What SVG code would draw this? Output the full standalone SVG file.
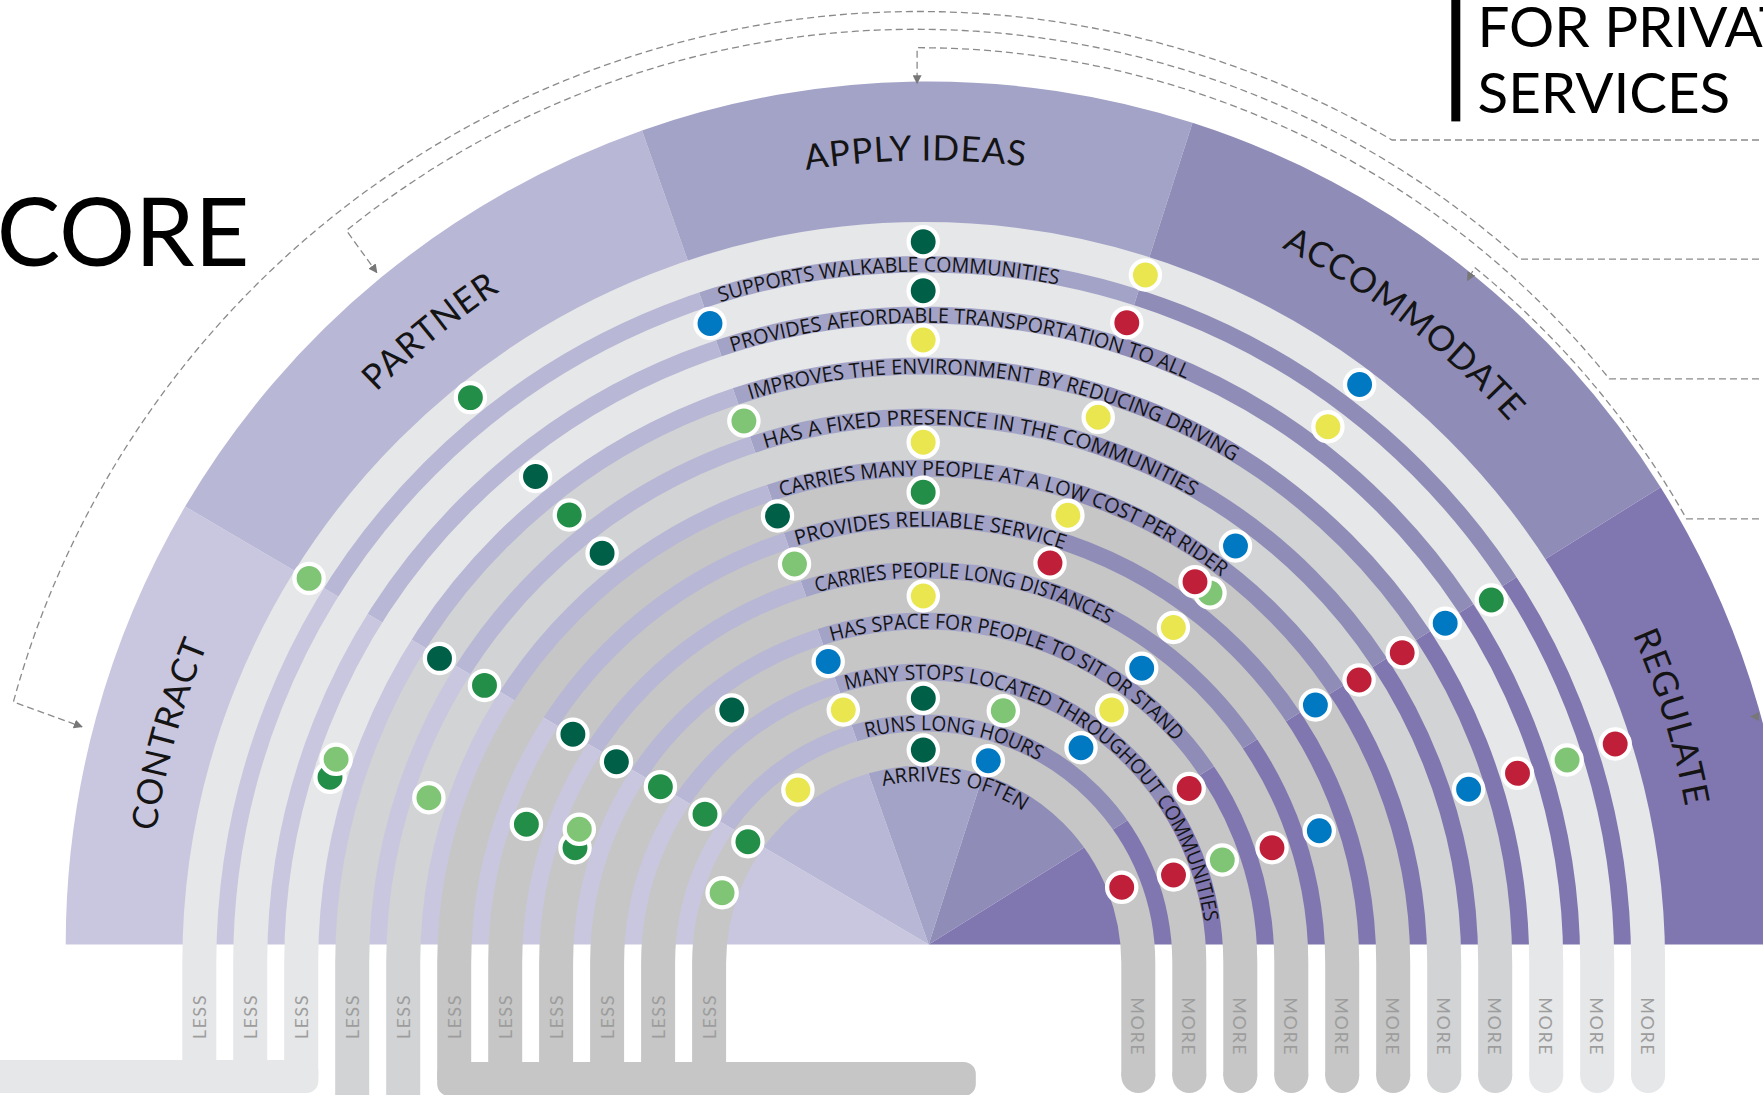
<svg xmlns="http://www.w3.org/2000/svg" width="1763" height="1095" viewBox="0 0 1763 1095">
<style>
.bg{fill:#ffffff}
.s-contract{fill:#c9c7df}.s-partner{fill:#b8b7d5}.s-apply{fill:#a3a3c8}.s-accom{fill:#8f8db8}.s-regulate{fill:#8177b0}
.ring{fill:none;stroke-width:34}
.rl{stroke:#e6e7e8}.rm{stroke:#d1d3d4}.rd{stroke:#c5c6c5}
.fl{fill:#e6e7e8}.fm{fill:#d1d3d4}.fd{fill:#c5c6c5}
.lbl{font-family:"Open Sans","Noto Sans","Liberation Sans",sans-serif;font-size:20.5px;fill:#141414}
.hdr{font-family:Lato,"Noto Sans","Liberation Sans",sans-serif;font-size:35px;fill:#141414;letter-spacing:1px}
.dot{stroke:#ffffff;stroke-width:4.3}
.dg{fill:#005f47}.g{fill:#238e47}.lg{fill:#80c575}.y{fill:#e9e650}.r{fill:#c01f39}.b{fill:#0079c2}
.conn{fill:none;stroke:#8a8a8a;stroke-width:1.3;stroke-dasharray:7 4}
.lm{font-family:Lato,"Liberation Sans",sans-serif;font-size:18px;fill:#9d9d9d;letter-spacing:1.5px;text-anchor:middle;dominant-baseline:central}
.title{font-family:Lato,"Noto Sans","Liberation Sans",sans-serif;fill:#000000}
</style>
<defs>
<marker id="arr" viewBox="0 0 10 10" refX="9" refY="5" markerWidth="9" markerHeight="9" markerUnits="userSpaceOnUse" orient="auto">
<path d="M0,0 L10,5 L0,10 Z" fill="#777777"/>
</marker>
<path id="hp" d="M150.7 1012.6 A781 781 0 1 1 1706.7 1012.6"/>
<path id="hpa" d="M536.7 265.5 A784 784 0 0 1 1320.7 265.5"/>
<path id="hpr" d="M1558.6 503.4 A769 769 0 0 1 1694.8 1011.5"/>
<path id="lp1" d="M720.4 302.2 A691.4 691.4 0 0 1 1173.7 318.4"/>
<path id="lp2" d="M732.2 352.0 A640.3 640.3 0 0 1 1283.6 433.4"/>
<path id="lp3" d="M750.4 399.6 A589.5 589.5 0 0 1 1315.8 522.9"/>
<path id="lp4" d="M765.4 448.3 A538.5 538.5 0 0 1 1269.8 550.5"/>
<path id="lp5" d="M781.2 496.8 A487.5 487.5 0 0 1 1283.7 634.3"/>
<path id="lp6" d="M796.8 545.4 A436.5 436.5 0 0 1 1133.3 580.1"/>
<path id="lp7" d="M816.8 592.6 A385.5 385.5 0 0 1 1164.2 661.7"/>
<path id="lp8" d="M831.5 641.4 A334.6 334.6 0 0 1 1209.3 788.7"/>
<path id="lp9" d="M846.5 690.1 A283.6 283.6 0 0 1 1206.2 987.7"/>
<path id="lp10" d="M866.2 737.6 A232.6 232.6 0 0 1 1072 783.8"/>
<path id="lp11" d="M883.1 786 A181.6 181.6 0 0 1 1048 830.6"/>
</defs>
<rect class="bg" x="0" y="0" width="1763" height="1095"/>

<g id="sectors">
<g id="contract"><path class="s-contract" d="M928.7 944.5 L65.7 944.5 A863 863 0 0 1 185.1 506.5 Z"/></g>
<g id="partner"><path class="s-partner" d="M928.7 944.5 L185.1 506.5 A863 863 0 0 1 642.0 130.5 Z"/></g>
<g id="apply-ideas"><path class="s-apply" d="M928.7 944.5 L642.0 130.5 A863 863 0 0 1 1192.5 122.8 Z"/></g>
<g id="accommodate"><path class="s-accom" d="M928.7 944.5 L1192.5 122.8 A863 863 0 0 1 1660.6 487.2 Z"/></g>
<g id="regulate"><path class="s-regulate" d="M928.7 944.5 L1660.6 487.2 A863 863 0 0 1 1791.7 944.5 Z"/></g>
</g>

<g id="bars">
<rect class="fl" x="-20" y="1060" width="338.4" height="33" rx="12"/>
<rect class="fd" x="437.2" y="1062" width="538.6" height="34" rx="12"/>
</g>

<g id="rings">
<path class="ring rl" d="M199.3 1075 V963 A724.4 724.4 0 0 1 1648.1 963 V1076"/>
<path class="ring rl" d="M250.2 1075 V963 A673.5 673.5 0 0 1 1597.2 963 V1076"/>
<path class="ring rl" d="M301.2 1075 V963 A622.5 622.5 0 0 1 1546.2 963 V1076"/>
<path class="ring rm" d="M352.2 1100 V963 A571.5 571.5 0 0 1 1495.2 963 V1076"/>
<path class="ring rm" d="M403.2 1100 V963 A520.5 520.5 0 0 1 1444.2 963 V1076"/>
<path class="ring rd" d="M454.2 1080 V963 A469.5 469.5 0 0 1 1393.2 963 V1076"/>
<path class="ring rd" d="M505.2 1080 V963 A418.5 418.5 0 0 1 1342.2 963 V1076"/>
<path class="ring rd" d="M556.1 1080 V963 A367.6 367.6 0 0 1 1291.3 963 V1076"/>
<path class="ring rd" d="M607.1 1080 V963 A316.6 316.6 0 0 1 1240.3 963 V1076"/>
<path class="ring rd" d="M658.1 1080 V963 A265.6 265.6 0 0 1 1189.3 963 V1076"/>
<path class="ring rd" d="M709.1 1080 V963 A214.6 214.6 0 0 1 1138.3 963 V1076"/>
<circle class="fl" cx="1648.1" cy="1076" r="17"/>
<circle class="fl" cx="1597.2" cy="1076" r="17"/>
<circle class="fl" cx="1546.2" cy="1076" r="17"/>
<circle class="fm" cx="1495.2" cy="1076" r="17"/>
<circle class="fm" cx="1444.2" cy="1076" r="17"/>
<circle class="fd" cx="1393.2" cy="1076" r="17"/>
<circle class="fd" cx="1342.2" cy="1076" r="17"/>
<circle class="fd" cx="1291.3" cy="1076" r="17"/>
<circle class="fd" cx="1240.3" cy="1076" r="17"/>
<circle class="fd" cx="1189.3" cy="1076" r="17"/>
<circle class="fd" cx="1138.3" cy="1076" r="17"/>
</g>

<g id="sector-labels">
<text class="hdr"><textPath href="#hp" startOffset="279.4" text-anchor="middle">CONTRACT</textPath></text>
<text class="hdr"><textPath href="#hp" startOffset="762" text-anchor="middle">PARTNER</textPath></text>
<text class="hdr"><textPath href="#hpa" startOffset="397.5" text-anchor="middle">APPLY IDEAS</textPath></text>
<text class="hdr"><textPath href="#hp" startOffset="1806" text-anchor="middle">ACCOMMODATE</textPath></text>
<text class="hdr"><textPath href="#hpr" startOffset="241.6" text-anchor="middle">REGULATE</textPath></text>
</g>

<g id="criteria">
<text class="lbl"><textPath href="#lp1" textLength="341.5" lengthAdjust="spacingAndGlyphs">SUPPORTS WALKABLE COMMUNITIES</textPath></text>
<text class="lbl"><textPath href="#lp2" textLength="464.9" lengthAdjust="spacingAndGlyphs">PROVIDES AFFORDABLE TRANSPORTATION TO ALL</textPath></text>
<text class="lbl"><textPath href="#lp3" textLength="502.1" lengthAdjust="spacingAndGlyphs">IMPROVES THE ENVIRONMENT BY REDUCING DRIVING</textPath></text>
<text class="lbl"><textPath href="#lp4" textLength="442.7" lengthAdjust="spacingAndGlyphs">HAS A FIXED PRESENCE IN THE COMMUNITIES</textPath></text>
<text class="lbl"><textPath href="#lp5" textLength="464.6" lengthAdjust="spacingAndGlyphs">CARRIES MANY PEOPLE AT A LOW COST PER RIDER</textPath></text>
<text class="lbl"><textPath href="#lp6" textLength="271.2" lengthAdjust="spacingAndGlyphs">PROVIDES RELIABLE SERVICE</textPath></text>
<text class="lbl"><textPath href="#lp7" textLength="300.8" lengthAdjust="spacingAndGlyphs">CARRIES PEOPLE LONG DISTANCES</textPath></text>
<text class="lbl"><textPath href="#lp8" textLength="377.3" lengthAdjust="spacingAndGlyphs">HAS SPACE FOR PEOPLE TO SIT OR STAND</textPath></text>
<text class="lbl"><textPath href="#lp9" textLength="482.6" lengthAdjust="spacingAndGlyphs">MANY STOPS LOCATED THROUGHOUT COMMUNITIES</textPath></text>
<text class="lbl"><textPath href="#lp10" textLength="178.2" lengthAdjust="spacingAndGlyphs">RUNS LONG HOURS</textPath></text>
<text class="lbl"><textPath href="#lp11" textLength="146.1" lengthAdjust="spacingAndGlyphs">ARRIVES OFTEN</textPath></text>
</g>

<g id="dots">
<circle class="dot dg" cx="923.2" cy="241.7" r="14.6"/>
<circle class="dot y" cx="1145.4" cy="275" r="14.6"/>
<circle class="dot g" cx="470.4" cy="397.6" r="14.6"/>
<circle class="dot b" cx="1359.6" cy="384.5" r="14.6"/>
<circle class="dot lg" cx="309.1" cy="578.4" r="14.6"/>
<circle class="dot r" cx="1615.2" cy="744" r="14.6"/>

<circle class="dot dg" cx="923.2" cy="290.7" r="14.6"/>
<circle class="dot b" cx="710" cy="323.5" r="14.6"/>
<circle class="dot r" cx="1126.8" cy="322.7" r="14.6"/>
<circle class="dot y" cx="1327.9" cy="426.7" r="14.6"/>
<circle class="dot g" cx="1491.3" cy="600" r="14.6"/>
<circle class="dot lg" cx="1567.1" cy="760" r="14.6"/>

<circle class="dot y" cx="923.2" cy="340" r="14.6"/>
<circle class="dot dg" cx="535.5" cy="476.5" r="14.6"/>
<circle class="dot b" cx="1445.2" cy="623.3" r="14.6"/>
<circle class="dot r" cx="1517.5" cy="773.3" r="14.6"/>
<circle class="dot g" cx="330" cy="777.3" r="14.6"/>
<circle class="dot lg" cx="336.1" cy="759.3" r="14.6"/>

<circle class="dot lg" cx="743.9" cy="421" r="14.6"/>
<circle class="dot y" cx="1098.2" cy="417.3" r="14.6"/>
<circle class="dot g" cx="569.3" cy="515" r="14.6"/>
<circle class="dot dg" cx="439.5" cy="658.4" r="14.6"/>
<circle class="dot r" cx="1402.2" cy="652.7" r="14.6"/>
<circle class="dot b" cx="1468.6" cy="789.3" r="14.6"/>

<circle class="dot y" cx="923.2" cy="442.3" r="14.6"/>
<circle class="dot dg" cx="602.1" cy="553.3" r="14.6"/>
<circle class="dot b" cx="1235.5" cy="546" r="14.6"/>
<circle class="dot g" cx="484.5" cy="685.4" r="14.6"/>
<circle class="dot r" cx="1359.1" cy="680" r="14.6"/>
<circle class="dot lg" cx="428.9" cy="797.7" r="14.6"/>

<circle class="dot g" cx="923.2" cy="492.3" r="14.6"/>
<circle class="dot dg" cx="777.5" cy="516" r="14.6"/>
<circle class="dot y" cx="1067.9" cy="515.3" r="14.6"/>
<circle class="dot lg" cx="1210" cy="593" r="14.6"/>
<circle class="dot r" cx="1195" cy="581.7" r="14.6"/>
<circle class="dot b" cx="1315.4" cy="705" r="14.6"/>

<circle class="dot lg" cx="794.5" cy="564" r="14.6"/>
<circle class="dot r" cx="1050" cy="563" r="14.6"/>
<circle class="dot y" cx="1173.4" cy="627.5" r="14.6"/>
<circle class="dot dg" cx="572.9" cy="734.3" r="14.6"/>
<circle class="dot g" cx="526.4" cy="824.3" r="14.6"/>
<circle class="dot b" cx="1319.3" cy="830.7" r="14.6"/>

<circle class="dot y" cx="923.3" cy="596" r="14.6"/>
<circle class="dot b" cx="1141.7" cy="668.3" r="14.6"/>
<circle class="dot dg" cx="616.4" cy="761.7" r="14.6"/>
<circle class="dot g" cx="575" cy="847.7" r="14.6"/>
<circle class="dot lg" cx="579.3" cy="829.3" r="14.6"/>
<circle class="dot r" cx="1272" cy="847.7" r="14.6"/>

<circle class="dot b" cx="828.2" cy="661.5" r="14.6"/>
<circle class="dot dg" cx="731.8" cy="710" r="14.6"/>
<circle class="dot y" cx="1111.7" cy="710" r="14.6"/>
<circle class="dot g" cx="660.4" cy="786.7" r="14.6"/>
<circle class="dot r" cx="1189.2" cy="788.5" r="14.6"/>
<circle class="dot lg" cx="1222.3" cy="860" r="14.6"/>

<circle class="dot dg" cx="923.3" cy="698.3" r="14.6"/>
<circle class="dot y" cx="843.3" cy="710" r="14.6"/>
<circle class="dot lg" cx="1003.3" cy="710.7" r="14.6"/>
<circle class="dot b" cx="1081" cy="747.7" r="14.6"/>
<circle class="dot g" cx="705" cy="814.3" r="14.6"/>
<circle class="dot r" cx="1173.5" cy="875" r="14.6"/>

<circle class="dot dg" cx="923.3" cy="750" r="14.6"/>
<circle class="dot b" cx="988.3" cy="760.7" r="14.6"/>
<circle class="dot y" cx="797.9" cy="790" r="14.6"/>
<circle class="dot g" cx="747.9" cy="841.7" r="14.6"/>
<circle class="dot lg" cx="722.1" cy="892.7" r="14.6"/>
<circle class="dot r" cx="1121.7" cy="887.3" r="14.6"/>
</g>

<g id="connectors">
<path class="conn" marker-end="url(#arr)" d="M1770 140 H1392 A938 938 0 0 0 13.4 701.9 L82 726.8"/>
<path class="conn" marker-end="url(#arr)" d="M1770 259.2 H1519.6 A907 907 0 0 0 346.4 230.5 L376.8 272.6"/>
<path class="conn" marker-end="url(#arr)" d="M1770 378.8 H1609.3 A889 889 0 0 0 917.1 47.7 L917.1 83.3"/>
<path class="conn" marker-end="url(#arr)" d="M1770 518.8 H1686.5 A885 885 0 0 0 1474.7 267.5 L1467.5 280.5"/>
<path class="conn" marker-end="url(#arr)" d="M1770 716.5 L1751 716.5"/>
</g>

<g id="less-labels">
<text class="lm" transform="translate(199.3 1016.7) rotate(-90)">LESS</text>
<text class="lm" transform="translate(250.2 1016.7) rotate(-90)">LESS</text>
<text class="lm" transform="translate(301.2 1016.7) rotate(-90)">LESS</text>
<text class="lm" transform="translate(352.2 1016.7) rotate(-90)">LESS</text>
<text class="lm" transform="translate(403.2 1016.7) rotate(-90)">LESS</text>
<text class="lm" transform="translate(454.2 1016.7) rotate(-90)">LESS</text>
<text class="lm" transform="translate(505.2 1016.7) rotate(-90)">LESS</text>
<text class="lm" transform="translate(556.1 1016.7) rotate(-90)">LESS</text>
<text class="lm" transform="translate(607.1 1016.7) rotate(-90)">LESS</text>
<text class="lm" transform="translate(658.1 1016.7) rotate(-90)">LESS</text>
<text class="lm" transform="translate(709.1 1016.7) rotate(-90)">LESS</text>
</g>
<g id="more-labels">
<text class="lm" transform="translate(1138.3 1026.7) rotate(90)">MORE</text>
<text class="lm" transform="translate(1189.3 1026.7) rotate(90)">MORE</text>
<text class="lm" transform="translate(1240.3 1026.7) rotate(90)">MORE</text>
<text class="lm" transform="translate(1291.3 1026.7) rotate(90)">MORE</text>
<text class="lm" transform="translate(1342.2 1026.7) rotate(90)">MORE</text>
<text class="lm" transform="translate(1393.2 1026.7) rotate(90)">MORE</text>
<text class="lm" transform="translate(1444.2 1026.7) rotate(90)">MORE</text>
<text class="lm" transform="translate(1495.2 1026.7) rotate(90)">MORE</text>
<text class="lm" transform="translate(1546.2 1026.7) rotate(90)">MORE</text>
<text class="lm" transform="translate(1597.2 1026.7) rotate(90)">MORE</text>
<text class="lm" transform="translate(1648.1 1026.7) rotate(90)">MORE</text>
</g>

<g id="titles">
<text class="title" x="249.4" y="266.2" font-size="95" text-anchor="end">CORE</text>
<rect x="1451.3" y="-5" width="9" height="126.4" fill="#000000"/>
<text class="title" x="1477.5" y="47" font-size="56.5">FOR PRIVATE</text>
<text class="title" x="1477.5" y="113.1" font-size="56.5">SERVICES</text>
</g>
</svg>
